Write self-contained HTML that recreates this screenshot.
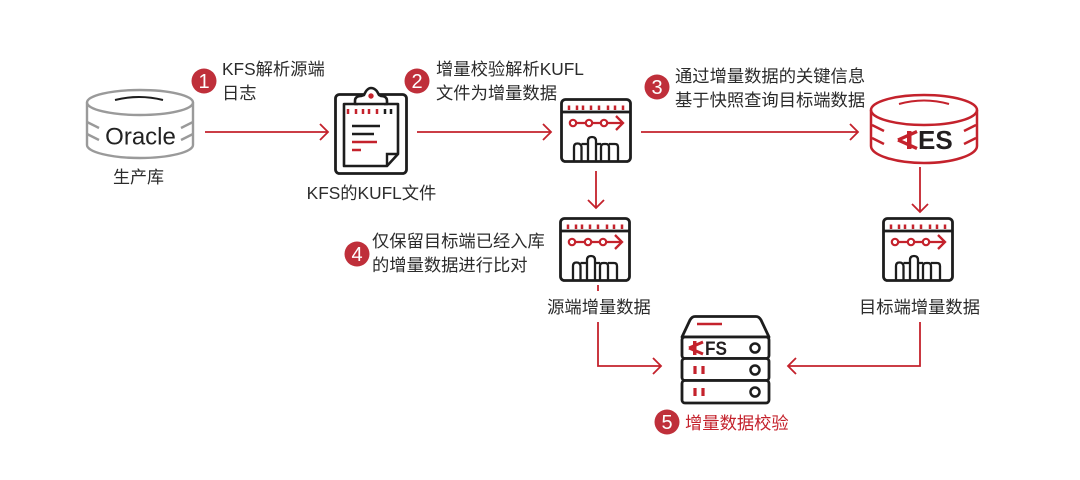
<!DOCTYPE html>
<html><head><meta charset="utf-8"><style>
html,body{margin:0;padding:0;background:#fff}
svg{display:block}
text{font-family:"Liberation Sans","Noto Sans CJK SC",sans-serif;font-size:17.3px;fill:#2b2b2b}
.n{font-size:20px;fill:#fff;text-anchor:middle}
.r{fill:none;stroke:#c4222c;stroke-width:1.8}
.k{fill:none;stroke:#1d1d1d;stroke-width:2.8;stroke-linejoin:round}
</style></head><body>
<svg width="1080" height="480" viewBox="0 0 1080 480" xmlns="http://www.w3.org/2000/svg">
<defs>
<g id="win">
<rect x="1.500" y="1.500" width="69" height="62" rx="4" class="k"/>
<path d="M1.500 14H70.500" class="k"/>
<path d="M9 7.500v4.500M17 7.500v4.500M23 7.500v4.500M31 7.500v4.500M39 7.500v4.500M48 7.500v4.500M55 7.500v4.500M63 7.500v4.500" stroke="#c4222c" stroke-width="2.500" fill="none"/>
<path d="M13 25H62M56 18l7 7-7 7" fill="none" stroke="#c4222c" stroke-width="2.300"/>
<circle cx="13" cy="25" r="3.200" fill="#fff" stroke="#c4222c" stroke-width="2.200"/>
<circle cx="29" cy="25" r="3.200" fill="#fff" stroke="#c4222c" stroke-width="2.200"/>
<circle cx="44" cy="25" r="3.200" fill="#fff" stroke="#c4222c" stroke-width="2.200"/>
<path d="M14 63V49q0-3.500 3.500-3.500t4 3.500V63M21.500 46H28M28 63V43q0-4 4-4t4 4V63M36 46H41M41 63V49q0-3 3-3h2q3 0 3 3V63M49 46H55q3 0 3 3V63" fill="none" stroke="#1d1d1d" stroke-width="2.300"/>
</g>
</defs>

<!-- connectors -->
<path class="r" d="M205 132H328M320 124l8 8-8 8"/>
<path class="r" d="M417 132H551M543 124l8 8-8 8"/>
<path class="r" d="M641 132H858M850 124l8 8-8 8"/>
<path class="r" d="M596 171V208M588 200l8 8 8-8"/>
<path class="r" d="M920 167V212M912 204l8 8 8-8"/>
<path class="r" d="M598 285V291M598 322V366H661M653 358l8 8-8 8"/>
<path class="r" d="M920 322V366H788M796 358l-8 8 8 8"/>

<!-- Oracle -->
<g fill="none" stroke="#9a9a9a" stroke-width="2.400">
<ellipse cx="140" cy="102.500" rx="53" ry="12.500"/>
<path d="M87 102.500V145c0 7 24 13 53 13s53-6 53-13V102.500"/>
<path d="M87 122l12 6M87 134l12 6M193 122l-12 6M193 134l-12 6"/>
</g>
<path d="M115 100q24-6 48 0" fill="none" stroke="#1d1d1d" stroke-width="2"/>
<text x="140.500" y="144.500" text-anchor="middle" style="font-size:24px;fill:#222">Oracle</text>
<text x="138.500" y="183" text-anchor="middle" style="font-size:17px">生产库</text>

<!-- Clipboard -->
<rect x="335.500" y="94.500" width="71" height="79" rx="4" class="k"/>
<path d="M358 104H344V166H387L398 154V104H384" fill="none" stroke="#1d1d1d" stroke-width="2.600" stroke-linejoin="round"/>
<path d="M355 104V101Q355 96 361 96L364 95Q367 88 371 88Q376 88 379 95L381 96Q387 96 387 101V104Z" fill="#fff" stroke="#1d1d1d" stroke-width="2.600" stroke-linejoin="round"/>
<circle cx="371" cy="96" r="2.700" fill="#c4222c"/>
<path d="M348 109v5M356 109v5M363 109v5M369 109v5M377 109v5" stroke="#c4222c" stroke-width="2.500" fill="none"/>
<path d="M385 109v5M391 109v5" stroke="#1d1d1d" stroke-width="2.500" fill="none"/>
<path d="M352 126H380M352 134H374" stroke="#1d1d1d" stroke-width="2.400" fill="none"/>
<path d="M352 142H377M352 150H361" stroke="#c4222c" stroke-width="2.400" fill="none"/>
<path d="M387 166V154H398" fill="none" stroke="#1d1d1d" stroke-width="2.400"/>

<!-- Window icons -->
<use href="#win" x="560" y="98"/>
<use href="#win" x="559" y="217"/>
<use href="#win" x="882" y="217"/>

<!-- KES -->
<g fill="none" stroke="#c4222c" stroke-width="2.500">
<ellipse cx="924" cy="110" rx="53" ry="15"/>
<path d="M871 110V146c0 9 24 17 53 17s53-8 53-17V110"/>
<path d="M872 125l12 6M872 138l12 6M976 125l-12 6M976 138l-12 6"/>
<path d="M899 104q25-7 50 0" stroke-width="2"/>
</g>
<rect x="907" y="131" width="4.500" height="18" fill="#c4222c"/>
<path d="M898 140L917 131.500M898 140L917 148.500" stroke="#c4222c" stroke-width="3.400" fill="none"/>
<text x="918" y="149" style="font-size:26px;font-weight:bold;fill:#231f20">ES</text>

<!-- Server -->
<g fill="#fff" stroke="#1d1d1d" stroke-width="2.800" stroke-linejoin="round">
<path d="M682 337L690 320q2-3.500 5-3.500h61q3 0 5 3.500l8 17Z"/>
<rect x="682" y="337" width="87" height="21.500" rx="3"/>
<rect x="682" y="358.500" width="87" height="22" rx="3"/>
<rect x="682" y="380.500" width="87" height="22.500" rx="3"/>
</g>
<path d="M697 324H722" stroke="#c4222c" stroke-width="2.500"/>
<rect x="693" y="341" width="3.500" height="14" fill="#c4222c"/>
<path d="M689 348L703 342M689 348L703 354" stroke="#c4222c" stroke-width="3" fill="none"/>
<text x="705" y="355" textLength="22" lengthAdjust="spacingAndGlyphs" style="font-size:19px;font-weight:bold;fill:#231f20">FS</text>
<g fill="#fff" stroke="#1d1d1d" stroke-width="2.500">
<circle cx="755" cy="348" r="4.500"/><circle cx="755" cy="370" r="4.500"/><circle cx="755" cy="392" r="4.500"/>
</g>
<path d="M695 366v8M703 366v8M695 388v8M703 388v8" stroke="#c4222c" stroke-width="3.200"/>

<!-- Badges -->
<g fill="#bf2f3a">
<circle cx="204" cy="81" r="12.500"/><circle cx="417" cy="81" r="12.500"/><circle cx="657" cy="87" r="12.500"/><circle cx="357" cy="254" r="12.500"/><circle cx="667" cy="422" r="12.500"/>
</g>
<text class="n" x="204" y="88">1</text>
<text class="n" x="417" y="88">2</text>
<text class="n" x="657" y="94">3</text>
<text class="n" x="357" y="261">4</text>
<text class="n" x="667" y="429">5</text>

<!-- Labels -->
<text x="222" y="75">KFS解析源端</text>
<text x="222" y="99">日志</text>
<text x="436" y="75">增量校验解析KUFL</text>
<text x="436" y="99">文件为增量数据</text>
<text x="675" y="82">通过增量数据的关键信息</text>
<text x="675" y="106">基于快照查询目标端数据</text>
<text x="372" y="247">仅保留目标端已经入库</text>
<text x="372" y="271">的增量数据进行比对</text>
<text x="371.500" y="199" text-anchor="middle">KFS的KUFL文件</text>
<text x="599" y="313" text-anchor="middle">源端增量数据</text>
<text x="919.500" y="313" text-anchor="middle">目标端增量数据</text>
<text x="685" y="429" style="fill:#c4222c">增量数据校验</text>
</svg>
</body></html>
